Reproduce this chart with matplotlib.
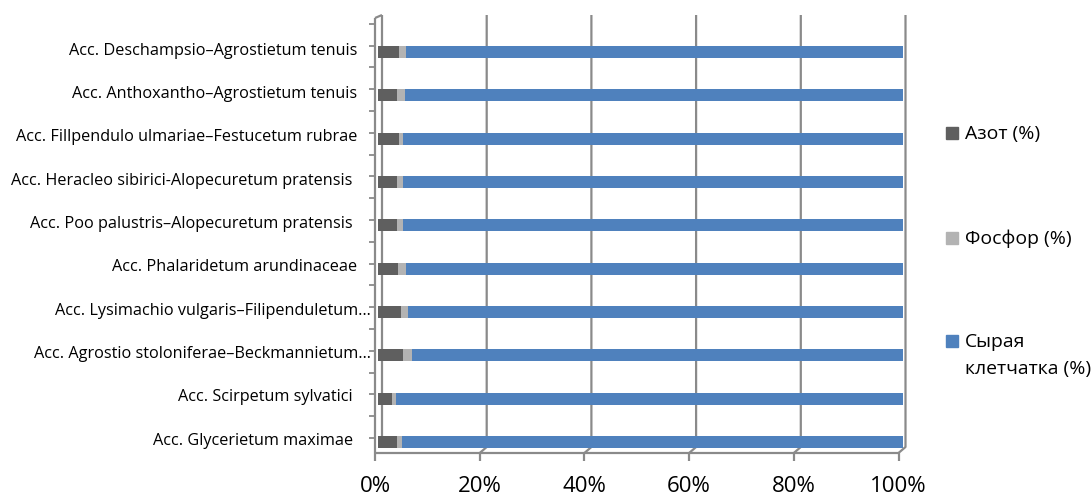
import matplotlib
matplotlib.use('Agg')
import matplotlib.pyplot as plt
from matplotlib.patches import Rectangle

# ---- data (bottom to top) ----
categories = [
    'Acc. Glycerietum maximae ',
    'Acc. Scirpetum sylvatici ',
    'Acc. Agrostio stoloniferae–Beckmannietum…',
    'Acc. Lysimachio vulgaris–Filipenduletum…',
    'Acc. Phalaridetum arundinaceae',
    'Acc. Poo palustris–Alopecuretum pratensis ',
    'Acc. Heracleo sibirici-Alopecuretum pratensis ',
    'Acc. Fillpendulo ulmariae–Festucetum rubrae',
    'Acc. Anthoxantho–Agrostietum tenuis',
    'Acc. Deschampsio–Agrostietum tenuis',
]
nitrogen = [3.7, 2.6, 4.8, 4.4, 3.8, 3.7, 3.7, 4.0, 3.6, 4.0]
phosphorus = [0.8, 0.9, 1.7, 1.3, 1.6, 1.0, 1.0, 0.8, 1.6, 1.4]
fiber = [95.5, 96.5, 93.5, 94.3, 94.6, 95.3, 95.3, 95.2, 94.8, 94.6]
series_names = ['Азот (%)', 'Фосфор (%)', 'Сырая\nклетчатка (%)']
x_ticks = [0, 20, 40, 60, 80, 100]
x_tick_labels = ['0%', '20%', '40%', '60%', '80%', '100%']

colors = ['#5f5f5f', '#b3b3b3', '#4f81bd']
FONT = 'Open Sans'
GRID = '#8a8a8a'

W, H = 1091, 499
fig = plt.figure(figsize=(W / 100, H / 100), dpi=100)
renderer = fig.canvas.get_renderer()


def fit_size(text, target_px, base=10.0):
    t = fig.text(0, 0, text, fontsize=base, family=FONT)
    w = t.get_window_extent(renderer=renderer).width
    t.remove()
    return base * target_px / w


LABEL_FS = fit_size('Acc. Deschampsio–Agrostietum tenuis', 289)
XT_FS = fit_size('100%', 57)
LEG_FS = fit_size('Азот (%)', 75)

X0, X1 = 378, 903
Y_first, step = 442, 43.333
ax = fig.add_axes([X0 / W, (H - (Y_first + 0.5 * step)) / H,
                   (X1 - X0) / W, (10 * step) / H])
ax.set_xlim(0, 100)
ax.set_ylim(-0.5, 9.5)
ax.axis('off')


def dx(px):
    return (px - X0) / (X1 - X0) * 100


def dy(py):
    return (Y_first - py) / step


def pline(xs, ys, lw=1.6):
    ax.plot([dx(x) for x in xs], [dy(y) for y in ys], color=GRID, lw=lw,
            clip_on=False, solid_capstyle='butt', zorder=1)


# frame / gridlines (3D look)
for k in range(6):
    bx = 382 + 104.7 * k
    fx = 375 + 104.7 * k
    if k == 0:
        pline([bx, bx], [15, 447])
    else:
        pline([bx, bx, fx], [15, 447, 453])
    pline([fx, fx], [453, 461])
pline([375, 899], [453, 453])
pline([375, 375], [453, 18])
pline([375, 382], [18, 15])
for j in range(20):
    ty = 438 - 21.8 * j
    pline([369, 375], [ty, ty], lw=1.3)

# bars
ypos = list(range(len(categories)))
totals = [a + b + c for a, b, c in zip(nitrogen, phosphorus, fiber)]
shares = [[v / t * 100 for v, t in zip(s, totals)] for s in (nitrogen, phosphorus, fiber)]
left = [0.0] * len(categories)
for vals, col in zip(shares, colors):
    ax.barh(ypos, vals, left=left, height=0.27, color=col, linewidth=0, zorder=3)
    left = [l + v for l, v in zip(left, vals)]

# category labels
for i, lab in enumerate(categories):
    xr = 371 if lab.endswith('…') else 357
    ax.text(dx(xr), i + 0.03, lab, ha='right', va='center', fontsize=LABEL_FS,
            family=FONT, color='#000000', clip_on=False)

# x tick labels
for t, lab in zip(x_ticks, x_tick_labels):
    fig.text((375 + 104.7 * t / 20) / W, 1 - 487 / H, lab, ha='center', va='center',
             fontsize=XT_FS, family=FONT, color='#000000')

# legend (manual)
leg_y = [133, 238, 341]
for name, col, ly in zip(series_names, colors, leg_y):
    fig.patches.append(Rectangle((946 / W, 1 - (ly + 6) / H), 12 / W, 12 / H,
                                 transform=fig.transFigure, color=col))
    fig.text(965 / W, 1 - (ly - 8) / H, name, ha='left', va='top',
             fontsize=LEG_FS, family=FONT, color='#000000', linespacing=1.65)

fig.savefig('out.png', dpi=100)
